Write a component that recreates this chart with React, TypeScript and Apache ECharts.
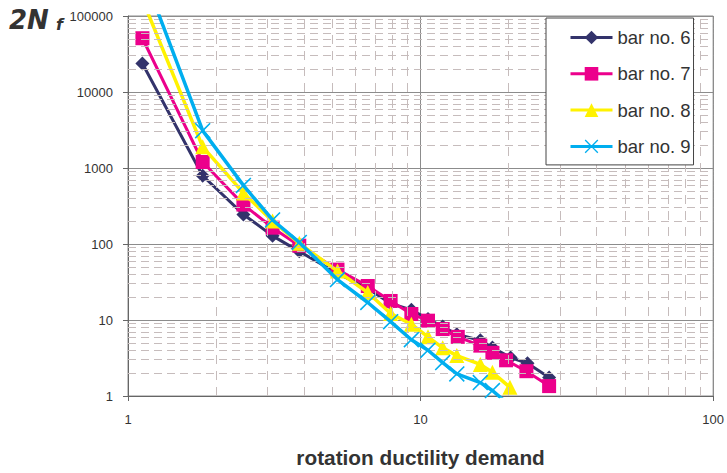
import React, { useEffect, useRef } from 'react';
import * as echarts from 'echarts';

const seriesNames = ['bar no. 6', 'bar no. 7', 'bar no. 8', 'bar no. 9'];
const seriesColors = ['#33336b', '#ec008c', '#fff200', '#00aeef'];

const bar6Ductility = [1.12, 1.8, 2.48, 3.12, 3.85, 5.2, 6.6, 7.9, 9.3, 10.6, 11.9, 13.3, 16.0, 17.6, 20.3, 23.2, 27.5];
const bar6Cycles = [23700, 790, 245, 128, 80, 41, 26, 16.5, 13.6, 10.3, 8.2, 6.5, 5.4, 4.35, 3.2, 2.7, 1.75];

const bar7Ductility = [1.12, 1.8, 2.48, 3.12, 3.85, 5.2, 6.6, 7.9, 9.3, 10.6, 11.9, 13.4, 16.0, 17.6, 19.6, 23.0, 27.5];
const bar7Cycles = [51000, 1200, 330, 164, 95, 46, 28, 17.8, 12, 9.8, 7.6, 6.0, 4.6, 3.7, 2.95, 2.12, 1.35];

const bar8Ductility = [1.12, 1.8, 2.48, 3.12, 3.85, 5.2, 6.6, 7.9, 9.3, 10.6, 11.9, 13.3, 16.0, 17.6, 20.2];
const bar8Cycles = [165000, 1900, 470, 200, 102, 44, 23, 12.2, 8.8, 6.0, 4.3, 3.4, 2.6, 2.05, 1.3];

const bar9Ductility = [1.12, 1.8, 2.48, 3.12, 3.85, 5.2, 6.6, 7.9, 9.3, 10.6, 11.9, 13.3, 16.0, 17.6, 19.8];
const bar9Cycles = [390000, 3100, 590, 207, 105, 34, 17, 9.5, 5.5, 4.0, 2.75, 1.95, 1.5, 1.18, 0.8];

const xDecades = [1, 10];
const yDecades = [1, 10, 100, 1000, 10000];
const minorSteps = [2, 3, 4, 5, 6, 7, 8, 9];

const FONT = 'Liberation Sans, Arial, sans-serif';
const X_MARK = 'path://M0,1.4L1.4,0L10,8.6L18.6,0L20,1.4L11.4,10L20,18.6L18.6,20L10,11.4L1.4,20L0,18.6L8.6,10Z';

const zip = (xs: number[], ys: number[]) => xs.map((x, i) => [x, ys[i]]);

export default function App() {
  const ref = useRef<HTMLDivElement>(null);
  useEffect(() => {
    const chart = echarts.init(ref.current!, null, { renderer: 'svg' });
    const minorY: number[] = [];
    yDecades.forEach((d) => minorSteps.forEach((s) => minorY.push(d * s)));
    const minorX: number[] = [];
    xDecades.forEach((d) => minorSteps.forEach((s) => minorX.push(d * s)));

    const datasets = [
      zip(bar6Ductility, bar6Cycles),
      zip(bar7Ductility, bar7Cycles),
      zip(bar8Ductility, bar8Cycles),
      zip(bar9Ductility, bar9Cycles),
    ];
    const symbols = ['diamond', 'rect', 'triangle', X_MARK];
    const sizes = [14, 14, 15, 16];
    const widths = [3, 3, 3.5, 3.5];

    const option: any = {
      animation: false,
      backgroundColor: '#fff',
      textStyle: { fontFamily: FONT },
      grid: {
        left: 128,
        right: 13,
        top: 16,
        bottom: 73,
        show: true,
        borderColor: '#8c8c8c',
        borderWidth: 1,
        backgroundColor: 'transparent',
      },
      legend: {
        orient: 'vertical',
        left: 546,
        top: 18,
        z: 20,
        padding: [10, 3, 9, 23],
        itemGap: 17.3,
        itemWidth: 42,
        itemHeight: 17,
        borderColor: '#444',
        borderWidth: 1,
        backgroundColor: '#ffffff',
        lineStyle: { width: 3 },
        textStyle: { fontSize: 18.5, color: '#333', fontFamily: FONT },
        data: seriesNames,
      },
      xAxis: {
        type: 'log',
        logBase: 10,
        min: 1,
        max: 100,
        name: 'rotation ductility demand',
        nameLocation: 'middle',
        nameGap: 51,
        nameTextStyle: { fontSize: 20.8, fontWeight: 'bold', color: '#333', fontFamily: FONT },
        axisLine: { show: true, lineStyle: { color: '#666', width: 1 } },
        axisTick: { show: true, length: 5, lineStyle: { color: '#666' } },
        axisLabel: {
          margin: 17,
          fontSize: 13,
          color: '#333',
          fontFamily: FONT,
          formatter: (v: number) => String(Math.round(v)),
        },
        splitLine: { show: true, lineStyle: { color: '#8c8c8c', width: 1 } },
      },
      yAxis: {
        type: 'log',
        logBase: 10,
        min: 1,
        max: 100000,
        axisLine: { show: true, lineStyle: { color: '#666', width: 1 } },
        axisTick: { show: true, length: 5, lineStyle: { color: '#666' } },
        axisLabel: {
          margin: 15,
          fontSize: 13,
          color: '#333',
          fontFamily: FONT,
          formatter: (v: number) => String(Math.round(v)),
        },
        splitLine: { show: true, lineStyle: { color: '#8c8c8c', width: 1 } },
      },
      graphic: [
        {
          type: 'text',
          left: 9,
          top: 7,
          z: 30,
          style: { text: '2N', font: 'italic bold 26px DejaVu Sans', fill: '#333' },
        },
        {
          type: 'text',
          left: 56,
          top: 16,
          z: 30,
          style: { text: 'f', font: 'italic bold 16px DejaVu Sans', fill: '#333' },
        },
      ],
      series: [
        {
          name: 'minor grid',
          type: 'line',
          data: [],
          silent: true,
          z: 1,
          markLine: {
            silent: true,
            symbol: ['none', 'none'],
            label: { show: false },
            animation: false,
            lineStyle: { color: '#c6bcbc', width: 1, type: [8, 5] },
            data: [
              ...minorY.map((v) => ({ yAxis: v, lineStyle: { color: '#c6bcbc', width: 1, type: [8, 5] } })),
              ...minorX.map((v) => ({ xAxis: v, lineStyle: { color: '#c6bcbc', width: 1, type: [9, 7] } })),
            ],
          },
        },
        ...seriesNames.map((name, i) => ({
          name,
          type: 'line',
          data: datasets[i],
          symbol: symbols[i],
          symbolSize: sizes[i],
          showAllSymbol: true,
          clip: true,
          z: 2 + i,
          lineStyle: { color: seriesColors[i], width: widths[i] },
          itemStyle: { color: seriesColors[i] },
          emphasis: { disabled: true },
        })),
      ],
    };
    chart.setOption(option);
    return () => chart.dispose();
  }, []);
  return <div ref={ref} style={{ position: 'fixed', left: 0, top: 0, width: 727, height: 473 }} />;
}
